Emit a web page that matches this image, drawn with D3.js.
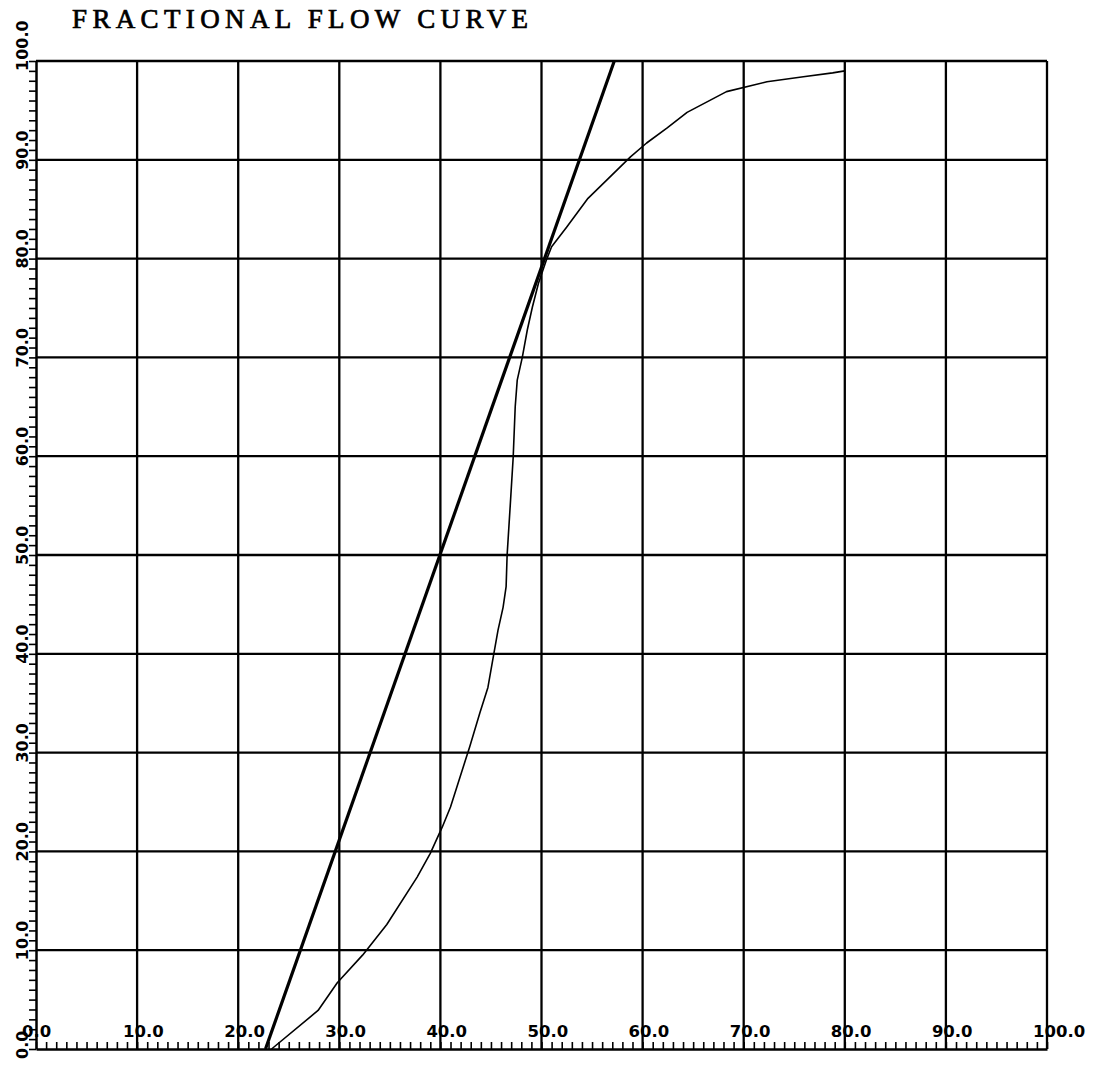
<!DOCTYPE html>
<html>
<head>
<meta charset="utf-8">
<script src="https://cdn.jsdelivr.net/npm/d3@7"></script>
<style>
  html, body { margin: 0; padding: 0; background: #fff; }
  svg { display: block; }
</style>
</head>
<body>
<svg id="chart" width="1094" height="1068"></svg>
<script>
// ---- data ----
const titleText = "FRACTIONAL FLOW CURVE";
const xTickLabels = ["0.0","10.0","20.0","30.0","40.0","50.0","60.0","70.0","80.0","90.0","100.0"];
const yTickLabels = ["0.0","10.0","20.0","30.0","40.0","50.0","60.0","70.0","80.0","90.0","100.0"];
const majorTicks = [0,10,20,30,40,50,60,70,80,90,100];
// fractional flow curve (water saturation %, fractional flow %)
const curveSw = [23.3, 27.9, 29.8, 32.3, 34.7, 37.7, 39.0, 40.2, 41.0, 42.9, 43.9, 44.7, 45.3, 45.7, 46.2, 46.5, 46.6, 46.9, 47.2, 47.4, 47.6, 48.1, 48.6, 49.1, 49.7, 50.5, 51.0, 52.5, 54.6, 56.5, 58.8, 60.4, 62.4, 64.4, 68.3, 72.3, 75.9, 78.8, 80.0];
const curveFw = [0, 3.9, 6.7, 9.5, 12.6, 17.4, 19.8, 22.5, 24.5, 30.6, 34.0, 36.6, 40.1, 42.4, 44.7, 46.8, 50.0, 54.9, 59.9, 65.0, 67.7, 70.0, 72.8, 75.1, 77.5, 79.9, 81.2, 83.2, 86.1, 88.0, 90.3, 91.7, 93.2, 94.8, 96.9, 97.9, 98.4, 98.8, 99.0];
// tangent line (Welge construction)
const tangentSw = [22.7, 57.2];
const tangentFw = [0, 100];

// ---- scales ----
const svg = d3.select("#chart");
const x = d3.scaleLinear().domain([0, 100]).range([36, 1047]);
const y = d3.scaleLinear().domain([0, 100]).range([1049, 61]);

// ---- grid ----
const grid = svg.append("g").attr("stroke", "#000").attr("stroke-width", 2.3);
grid.selectAll("line.v").data(majorTicks.slice(1)).enter().append("line")
  .attr("x1", d => x(d)).attr("x2", d => x(d))
  .attr("y1", y(0)).attr("y2", y(100));
grid.selectAll("line.h").data(majorTicks.slice(1)).enter().append("line")
  .attr("x1", x(0)).attr("x2", x(100))
  .attr("y1", d => y(d)).attr("y2", d => y(d));

// ---- axes with minor ticks ----
const xAxis = d3.axisBottom(x).tickValues(d3.range(0, 101, 1)).tickSizeInner(-7).tickSizeOuter(0).tickFormat("");
const gx = svg.append("g").attr("transform", `translate(0,${y(0)})`).call(xAxis);
gx.select(".domain").attr("stroke", "#000").attr("stroke-width", 2.5);
gx.selectAll(".tick line").attr("stroke", "#000").attr("stroke-width", 1.6);

const yAxis = d3.axisLeft(y).tickValues(d3.range(0, 101, 1)).tickSizeInner(7).tickSizeOuter(0).tickFormat("");
const gy = svg.append("g").attr("transform", `translate(${x(0)},0)`).call(yAxis);
gy.select(".domain").attr("stroke", "#000").attr("stroke-width", 2.5);
gy.selectAll(".tick line").attr("stroke", "#000").attr("stroke-width", 1.6);

// ---- tick labels ----
svg.append("g").selectAll("text").data(majorTicks).enter().append("text")
  .attr("x", d => x(d) - 14)
  .attr("y", 1037)
  .attr("font-family", "DejaVu Sans, sans-serif")
  .attr("font-weight", "bold")
  .attr("font-size", 16.5)
  .attr("fill", "#000")
  .text((d, i) => xTickLabels[i]);

svg.append("g").selectAll("text").data(majorTicks).enter().append("text")
  .attr("transform", d => `translate(28,${y(d) + 10}) rotate(-90)`)
  .attr("font-family", "DejaVu Sans, sans-serif")
  .attr("font-weight", "bold")
  .attr("font-size", 16)
  .attr("fill", "#000")
  .text((d, i) => yTickLabels[i]);

// ---- title ----
svg.append("text")
  .attr("x", 72).attr("y", 28)
  .attr("font-family", "Liberation Serif, Times New Roman, serif")
  .attr("font-size", 27)
  .attr("fill", "#000")
  .attr("stroke", "#000").attr("stroke-width", 0.7)
  .attr("textLength", 456)
  .attr("lengthAdjust", "spacing")
  .text(titleText);

// ---- lines ----
const line = d3.line().x(d => x(d[0])).y(d => y(d[1])).curve(d3.curveMonotoneY);
const straight = d3.line().x(d => x(d[0])).y(d => y(d[1]));
const tangentPts = tangentSw.map((s, i) => [s, tangentFw[i]]);
const curvePts = curveSw.map((s, i) => [s, curveFw[i]]);

svg.append("path").datum(tangentPts)
  .attr("d", straight).attr("fill", "none").attr("stroke", "#000").attr("stroke-width", 3.2);
svg.append("path").datum(curvePts)
  .attr("d", straight).attr("fill", "none").attr("stroke", "#000").attr("stroke-width", 1.6)
  .attr("stroke-linejoin", "round");
</script>
</body>
</html>
